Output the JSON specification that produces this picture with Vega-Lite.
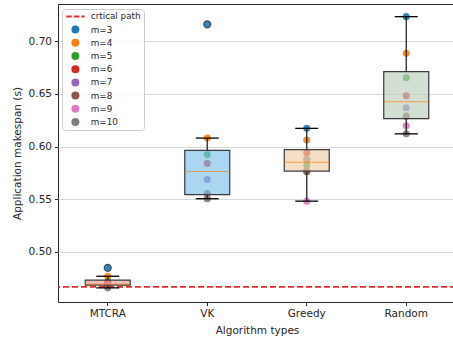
{
  "$schema": "https://vega.github.io/schema/vega-lite/v6.json",
  "width": 398,
  "height": 298,
  "autosize": "none",
  "padding": {"left": 58, "top": 4, "right": 0, "bottom": 37},
  "config": {
    "font": "DejaVu Sans",
    "view": {"stroke": "#262626", "strokeWidth": 1},
    "axis": {
      "labelFont": "DejaVu Sans", "titleFont": "DejaVu Sans",
      "labelFontSize": 10.5, "titleFontSize": 10.5, "titleFontWeight": "normal",
      "labelColor": "#262626", "titleColor": "#262626", "tickColor": "#262626",
      "domain": false, "tickSize": 3.5, "labelPadding": 3
    },
    "boxplot": {
      "extent": 1.5, "size": 45,
      "ticks": {"size": 23, "color": "#262626", "thickness": 1.3},
      "median": {"color": "#ff7f0e"},
      "rule": {"color": "#262626", "strokeWidth": 1.3},
      "outliers": {"color": "#262626", "filled": false, "size": 50, "strokeWidth": 1.2}
    }
  },
  "datasets": {
    "points": [
      {"alg": "MTCRA", "series": "m=3", "value": 0.4850},
      {"alg": "MTCRA", "series": "m=4", "value": 0.4770},
      {"alg": "MTCRA", "series": "m=5", "value": 0.4721},
      {"alg": "MTCRA", "series": "m=6", "value": 0.4705},
      {"alg": "MTCRA", "series": "m=7", "value": 0.4690},
      {"alg": "MTCRA", "series": "m=8", "value": 0.4687},
      {"alg": "MTCRA", "series": "m=9", "value": 0.4680},
      {"alg": "MTCRA", "series": "m=10", "value": 0.4660},
      {"alg": "VK", "series": "m=3", "value": 0.7158},
      {"alg": "VK", "series": "m=4", "value": 0.6080},
      {"alg": "VK", "series": "m=5", "value": 0.5925},
      {"alg": "VK", "series": "m=6", "value": 0.5840},
      {"alg": "VK", "series": "m=7", "value": 0.5688},
      {"alg": "VK", "series": "m=8", "value": 0.5555},
      {"alg": "VK", "series": "m=9", "value": 0.5510},
      {"alg": "VK", "series": "m=10", "value": 0.5505},
      {"alg": "Greedy", "series": "m=3", "value": 0.6172},
      {"alg": "Greedy", "series": "m=4", "value": 0.6061},
      {"alg": "Greedy", "series": "m=5", "value": 0.5824},
      {"alg": "Greedy", "series": "m=6", "value": 0.5940},
      {"alg": "Greedy", "series": "m=7", "value": 0.5770},
      {"alg": "Greedy", "series": "m=8", "value": 0.5760},
      {"alg": "Greedy", "series": "m=9", "value": 0.5482},
      {"alg": "Greedy", "series": "m=10", "value": 0.5878},
      {"alg": "Random", "series": "m=3", "value": 0.7231},
      {"alg": "Random", "series": "m=4", "value": 0.6883},
      {"alg": "Random", "series": "m=5", "value": 0.6652},
      {"alg": "Random", "series": "m=6", "value": 0.6481},
      {"alg": "Random", "series": "m=7", "value": 0.6367},
      {"alg": "Random", "series": "m=8", "value": 0.6288},
      {"alg": "Random", "series": "m=9", "value": 0.6196},
      {"alg": "Random", "series": "m=10", "value": 0.6120}
    ],
    "cp": [
      {"series": "crtical path", "value": 0.4669}
    ]
  },
  "layer": [
    {
      "data": {"name": "points"},
      "mark": {"type": "point", "filled": true, "size": 50, "opacity": 0.9},
      "encoding": {
        "x": {"field": "alg", "type": "nominal", "scale": {"type": "band", "domain": ["MTCRA", "VK", "Greedy", "Random"], "paddingInner": 0, "paddingOuter": 0}, "axis": {"title": "Algorithm types", "labelAngle": 0, "grid": false, "titlePadding": 6}},
        "y": {"field": "value", "type": "quantitative", "scale": {"domain": [0.4526, 0.7351], "nice": false, "zero": false}, "axis": {"title": "Application makespan (s)", "values": [0.5, 0.55, 0.6, 0.65, 0.7], "format": ".2f", "grid": true, "gridColor": "#d9d9d9", "titlePadding": 6}},
        "color": {
          "field": "series", "type": "nominal",
          "scale": {
            "domain": ["crtical path", "m=3", "m=4", "m=5", "m=6", "m=7", "m=8", "m=9", "m=10"],
            "range": ["#e82a2a", "#1f77b4", "#ff7f0e", "#2ca02c", "#d62728", "#9467bd", "#8c564b", "#e377c2", "#7f7f7f"]
          },
          "legend": {
            "title": null, "orient": "none", "legendX": 4, "legendY": 5,
            "symbolSize": 64, "labelFontSize": 8.8, "labelFont": "DejaVu Sans", "labelColor": "#262626",
            "rowPadding": 3.2, "padding": 3, "symbolOffset": 6, "labelOffset": 11,
            "strokeColor": "#cccccc", "fillColor": "rgba(255,255,255,0.8)", "cornerRadius": 3,
            "symbolOpacity": 1, "symbolStrokeWidth": 0,
            "encode": {"symbols": {"update": {"shape": {"signal": "datum.value === 'crtical path' ? 'M-2.3,-0.25H-0.9V0.25H-2.3Z M-0.4,-0.25H1V0.25H-0.4Z M1.5,-0.25H2.3V0.25H1.5Z' : 'circle'"}}}}
          }
        }
      }
    },
    {
      "data": {"name": "cp"},
      "mark": {"type": "rule", "strokeDash": [6, 3], "strokeWidth": 1.8},
      "encoding": {
        "y": {"field": "value", "type": "quantitative", "axis": {"title": "Application makespan (s)"}},
        "color": {"field": "series", "type": "nominal"}
      }
    },
    {
      "data": {"name": "points"},
      "transform": [{"filter": {"field": "alg", "equal": "MTCRA"}}],
      "mark": {"type": "boxplot", "box": {"color": "#f09b9b", "stroke": "#3a3a3a", "strokeWidth": 1.2, "fillOpacity": 0.65}},
      "encoding": {
        "x": {"field": "alg", "type": "nominal"},
        "y": {"field": "value", "type": "quantitative", "axis": {"title": "Application makespan (s)"}}
      }
    },
    {
      "data": {"name": "points"},
      "transform": [{"filter": {"field": "alg", "equal": "VK"}}],
      "mark": {"type": "boxplot", "box": {"color": "#7cc0eb", "stroke": "#3a3a3a", "strokeWidth": 1.2, "fillOpacity": 0.65}},
      "encoding": {
        "x": {"field": "alg", "type": "nominal"},
        "y": {"field": "value", "type": "quantitative", "axis": {"title": "Application makespan (s)"}}
      }
    },
    {
      "data": {"name": "points"},
      "transform": [{"filter": {"field": "alg", "equal": "Greedy"}}],
      "mark": {"type": "boxplot", "box": {"color": "#eecca7", "stroke": "#3a3a3a", "strokeWidth": 1.2, "fillOpacity": 0.65}},
      "encoding": {
        "x": {"field": "alg", "type": "nominal"},
        "y": {"field": "value", "type": "quantitative", "axis": {"title": "Application makespan (s)"}}
      }
    },
    {
      "data": {"name": "points"},
      "transform": [{"filter": {"field": "alg", "equal": "Random"}}],
      "mark": {"type": "boxplot", "box": {"color": "#bdcebd", "stroke": "#3a3a3a", "strokeWidth": 1.2, "fillOpacity": 0.65}},
      "encoding": {
        "x": {"field": "alg", "type": "nominal"},
        "y": {"field": "value", "type": "quantitative", "axis": {"title": "Application makespan (s)"}}
      }
    }
  ]
}
